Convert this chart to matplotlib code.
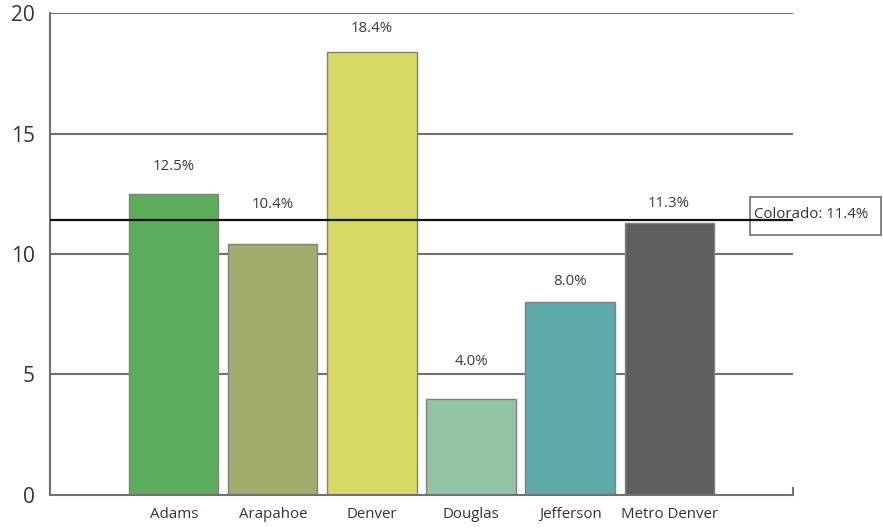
import matplotlib.pyplot as plt
from matplotlib.patches import Rectangle
from matplotlib.ticker import FixedLocator

plt.rcParams['font.family'] = ['Open Sans', 'DejaVu Sans']

counties = ["Adams", "Arapahoe", "Denver", "Douglas", "Jefferson", "Metro Denver"]
rates = [12.5, 10.4, 18.4, 4.0, 8.0, 11.3]
bar_colors = ["#5cad5b", "#a1ae6b", "#d7d964", "#94c4a6", "#60a9a9", "#5f5f61"]
colorado_rate = 11.4
yticks = [0, 5, 10, 15, 20]

# labels were nudged by hand in the original to dodge the grid lines (points)
label_offsets = [19.5, 29, 16.5, 27, 15, 14]

grey = "#707070"

fig = plt.figure(figsize=(8.83, 5.29), dpi=100)
ax = fig.add_axes([0.0566, 0.0643, 0.898 - 0.0566, 0.9754 - 0.0643])

x = list(range(len(counties)))

# grid lines behind bars
for t in yticks[1:]:
    ax.axhline(t, color=grey, lw=1.5, zorder=1)

bars = ax.bar(x, rates, width=0.9, color=bar_colors, edgecolor="#808080",
              linewidth=1, zorder=2)

for xi, v, off in zip(x, rates, label_offsets):
    ax.annotate(f"{v:.1f}%", (xi, v), xytext=(0, off), textcoords="offset points",
                ha="center", va="center", fontsize=10.8, color="#3a3a3a")

# statewide reference line with its label box
trans = ax.get_yaxis_transform()
ax.add_patch(Rectangle((0.942, 10.8), 0.176, 1.57, transform=trans, fc="white",
                       ec=grey, lw=1.2, zorder=3, clip_on=False))
ax.axhline(colorado_rate, color="#111111", lw=1.6, zorder=4)
ax.text(0.947, 11.65, f"Colorado: {colorado_rate}%", transform=trans,
        ha="left", va="center", fontsize=10.8, color="#333333", zorder=5,
        clip_on=False)

ax.set_xlim(-1.25, len(counties) + 0.25)
ax.set_ylim(0, 20)
ax.set_yticks(yticks)
ax.set_xticks(x)
ax.set_xticklabels(counties, fontsize=10.8, color="#333333")
ax.tick_params(axis="y", length=0, labelsize=15, pad=11, labelcolor="#333333")
ax.tick_params(axis="x", length=0, pad=9)

# small closing tick at the right end of the x axis
ax.xaxis.set_minor_locator(FixedLocator([len(counties) + 0.25]))
ax.tick_params(axis="x", which="minor", direction="in", length=6, width=1.5, color=grey)

for side in ["top", "right"]:
    ax.spines[side].set_visible(False)
for side in ["left", "bottom"]:
    ax.spines[side].set_color(grey)
    ax.spines[side].set_linewidth(1.5)

fig.savefig("out.png", dpi=100)
